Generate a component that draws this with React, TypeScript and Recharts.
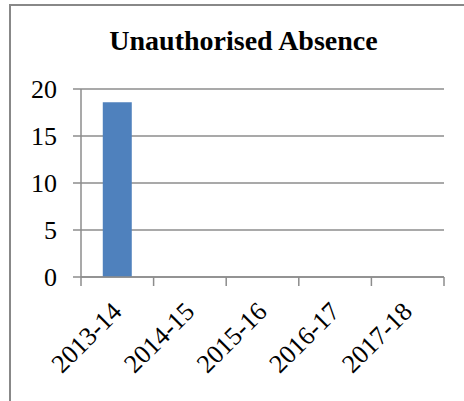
import { BarChart, Bar, XAxis, YAxis, CartesianGrid } from "recharts";

const categories = ["2013-14", "2014-15", "2015-16", "2016-17", "2017-18"];
const absence = [18.6, null, null, null, null];
const yTicks = [0, 5, 10, 15, 20];

const data = categories.map((year, i) => ({ year, value: absence[i] }));

const GRID = "#8c8c8c";
const FONT = "'Liberation Serif', 'Times New Roman', serif";

const YearTick = (props: any) => {
  const { x, y, payload, index } = props;
  const off = payload.offset ?? 0;
  const last = index === categories.length - 1;
  return (
    <g>
      <line x1={x - off} x2={x - off} y1={y} y2={y + 9} stroke={GRID} strokeWidth={1.5} />
      {last && <line x1={x + off} x2={x + off} y1={y} y2={y + 9} stroke={GRID} strokeWidth={1.5} />}
      <text
        transform={`translate(${x + 6},${y + 36}) rotate(-45)`}
        textAnchor="end"
        fontSize={26}
        fontFamily={FONT}
        fill="#000"
      >
        {payload.value}
      </text>
    </g>
  );
};

const App = () => {
  return (
    <div style={{ position: "absolute", left: 0, top: 0, width: 464, height: 401, background: "#fff" }}>
      <div
        style={{
          position: "absolute",
          left: 9,
          top: 4,
          width: 470,
          height: 410,
          borderLeft: `2px solid #888`,
          borderTop: `2px solid #888`,
        }}
      />
      <div
        style={{
          position: "absolute",
          left: 0,
          top: 27,
          width: 487,
          textAlign: "center",
          fontFamily: FONT,
          fontWeight: "bold",
          fontSize: 28,
          lineHeight: "27px",
          color: "#000",
        }}
      >
        Unauthorised Absence
      </div>
      <div style={{ position: "absolute", left: 0, top: 0 }}>
        <BarChart
          width={464}
          height={401}
          data={data}
          margin={{ top: 89, right: 20, left: 0, bottom: 0 }}
          barCategoryGap="30%"
        >
          <CartesianGrid vertical={false} stroke={GRID} strokeWidth={1.5} />
          <YAxis
            width={81}
            domain={[0, 20]}
            ticks={yTicks}
            interval={0}
            tickSize={8}
            tickMargin={16}
            axisLine={{ stroke: GRID, strokeWidth: 1.5 }}
            tickLine={{ stroke: GRID, strokeWidth: 1.5 }}
            tick={{ fontSize: 26, fontFamily: FONT, fill: "#000" }}
          />
          <XAxis
            dataKey="year"
            height={124}
            interval={0}
            tickSize={0}
            tickMargin={0}
            tickLine={false}
            axisLine={{ stroke: GRID, strokeWidth: 1.5 }}
            tick={<YearTick />}
          />
          <Bar dataKey="value" fill="#4f81bd" isAnimationActive={false} />
        </BarChart>
      </div>
    </div>
  );
};

export default App;
